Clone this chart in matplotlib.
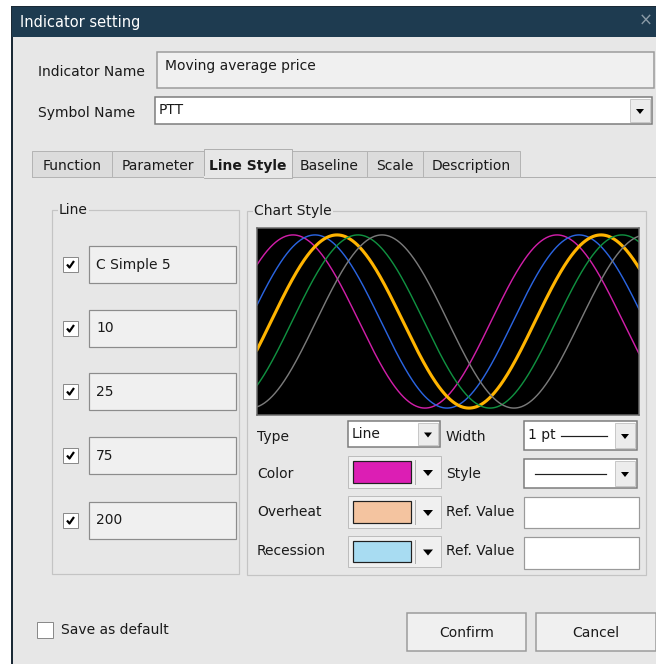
import numpy as np
import matplotlib.pyplot as plt
from matplotlib.patches import Rectangle, Polygon

# dialog content
title = "Indicator setting"
indicator_name = "Moving average price"
symbol_name = "PTT"
tabs = ["Function", "Parameter", "Line Style", "Baseline", "Scale", "Description"]
tab_edges = [32, 112, 204, 292, 367, 423, 520]
active_tab = "Line Style"

line_labels = ["C Simple 5", "10", "25", "75", "200"]
line_checked = [True, True, True, True, True]

# preview curves: colour, width (px) and x of the first crest in the preview
curve_colors = ["#d01ea8", "#2a64e0", "#ffb400", "#109040", "#7a7a7a"]
curve_widths = [1.2, 1.2, 2.6, 1.2, 1.2]
curve_peaks = [293, 315, 337, 358, 382]
curve_period = 264

color_swatch = "#dc1eb4"
overheat_swatch = "#f4c4a0"
recession_swatch = "#a8dcf2"

BODY = "#e7e7e7"
FIELD = "#f0f0f0"
PX = 0.72  # points per pixel at dpi 100


def box(ax, x0, y0, x1, y1, fc, ec="#a0a0a0", lw=1, z=2):
    ax.add_patch(Rectangle((x0, y0), x1 - x0, y1 - y0, facecolor=fc,
                           edgecolor=ec, linewidth=lw * PX, zorder=z))


def label(ax, x, y, s, size=10, color="#1a1a1a", **kw):
    ax.text(x, y, s, fontsize=size, color=color, va="center", ha="left",
            zorder=5, **kw)


def arrow(ax, cx, cy, w=8, h=5):
    ax.add_patch(Polygon([(cx - w / 2, cy - h / 2), (cx + w / 2, cy - h / 2),
                          (cx, cy + h / 2)], closed=True, facecolor="black",
                         edgecolor="none", zorder=6))


def combo(ax, x0, y0, x1, y1, text=None):
    box(ax, x0, y0, x1, y1, "white", ec="#7a7a7a", lw=1.5)
    box(ax, x1 - 22, y0 + 2, x1 - 2, y1 - 2, "#ececec", ec="#c8c8c8")
    arrow(ax, x1 - 12, (y0 + y1) / 2 + 1)
    if text:
        label(ax, x0 + 4, (y0 + y1) / 2, text)


def checkbox(ax, x0, y0, checked):
    box(ax, x0, y0, x0 + 15, y0 + 15, "white", ec="#8a8a8a", z=4)
    if checked:
        ax.plot([x0 + 4, x0 + 6.5, x0 + 11], [y0 + 7.5, y0 + 10.5, y0 + 4],
                color="black", lw=2.2 * PX, zorder=6, solid_capstyle="butt")


def swatch(ax, x0, y0, x1, y1, fc):
    box(ax, x0, y0, x1, y1, FIELD, ec="#bdbdbd")
    box(ax, x0 + 5, y0 + 5, x1 - 30, y1 - 5, fc, ec="#202020", lw=1.2, z=3)
    ax.plot([x1 - 26, x1 - 26], [y0 + 4, y1 - 4], color="#b0b0b0", lw=PX, zorder=4)
    arrow(ax, x1 - 13, (y0 + y1) / 2 + 1, w=10, h=6)


def group(ax, x0, y0, x1, y1, text):
    box(ax, x0, y0, x1, y1, "none", ec="#c4c4c4", lw=1.2, z=1)
    ax.text(x0 + 7, y0, text, fontsize=10, color="#1a1a1a", va="center",
            ha="left", zorder=5,
            bbox=dict(facecolor=BODY, edgecolor="none", pad=1))


fig = plt.figure(figsize=(6.56, 6.64), dpi=100)
fig.patch.set_facecolor("white")
ax = fig.add_axes([0, 0, 1, 1])
ax.set_xlim(0, 656)
ax.set_ylim(664, 0)
ax.axis("off")

# window frame and title bar
box(ax, 12, 7, 660, 670, BODY, ec="#1b2a36", lw=2, z=0)
box(ax, 12, 7, 660, 36, "#1e3b50", ec="#1e3b50", z=1)
label(ax, 20, 22, title, size=10.5, color="white")
ax.text(646, 21, "\u00d7", fontsize=12, color="#8a9aa6", va="center",
        ha="center", zorder=5)

# name / symbol rows
label(ax, 38, 72, "Indicator Name")
box(ax, 157, 52, 654, 88, FIELD, ec="#9a9a9a", lw=1.5)
label(ax, 165, 66, indicator_name)
label(ax, 38, 113, "Symbol Name")
combo(ax, 155, 97, 652, 124, symbol_name)

# tabs
ax.plot([32, 656], [176.5, 176.5], color="#b0b0b0", lw=PX, zorder=2)
for i, name in enumerate(tabs):
    x0, x1 = tab_edges[i], tab_edges[i + 1]
    if name == active_tab:
        box(ax, x0, 149, x1, 177.5, BODY, ec="#b0b0b0", z=3)
        ax.plot([x0 + 0.7, x1 - 0.7], [177, 177], color=BODY, lw=2 * PX, zorder=4)
        ax.text((x0 + x1) / 2, 166, name, fontsize=10, fontweight="bold",
                color="#1a1a1a", va="center", ha="center", zorder=5)
    else:
        box(ax, x0, 151, x1, 176.5, "#dcdcdc", ec="#b4b4b4", z=2)
        ax.text((x0 + x1) / 2, 166, name, fontsize=10, color="#1a1a1a",
                va="center", ha="center", zorder=5)

# left group: lines
group(ax, 52, 210, 239, 574, "Line")
row_tops = [246, 310, 373, 437, 502]
for top, name, chk in zip(row_tops, line_labels, line_checked):
    checkbox(ax, 63, top + 11, chk)
    box(ax, 89, top, 236, top + 37, FIELD, ec="#8c8c8c", lw=1.2)
    label(ax, 96, top + 18.5, name)

# right group: chart style
group(ax, 247, 211, 646, 575, "Chart Style")

# settings rows
label(ax, 257, 437, "Type")
combo(ax, 348, 421, 440, 447, "Line")
label(ax, 446, 437, "Width")
combo(ax, 524, 421, 637, 450, "1 pt")
ax.plot([561, 607], [436, 436], color="#202020", lw=1.2 * PX, zorder=6)

label(ax, 257, 474, "Color")
swatch(ax, 348, 456, 441, 488, color_swatch)
label(ax, 446, 474, "Style")
combo(ax, 524, 459, 637, 488)
ax.plot([535, 606], [474, 474], color="#202020", lw=1.2 * PX, zorder=6)

label(ax, 257, 512, "Overheat")
swatch(ax, 348, 496, 441, 528, overheat_swatch)
label(ax, 446, 512, "Ref. Value")
box(ax, 524, 497, 639, 528, "white", ec="#9a9a9a", lw=1.2)

label(ax, 257, 551, "Recession")
swatch(ax, 348, 536, 441, 567, recession_swatch)
label(ax, 446, 551, "Ref. Value")
box(ax, 524, 537, 639, 569, "white", ec="#9a9a9a", lw=1.2)

# bottom row
box(ax, 37, 622, 53, 638, "white", ec="#8a8a8a")
label(ax, 61, 630, "Save as default")
box(ax, 407, 613, 526, 651, FIELD, ec="#9a9a9a", lw=1.5)
ax.text(466.5, 633, "Confirm", fontsize=10, color="#1a1a1a", va="center",
        ha="center", zorder=5)
box(ax, 536, 613, 656, 651, FIELD, ec="#9a9a9a", lw=1.5)
ax.text(596, 633, "Cancel", fontsize=10, color="#1a1a1a", va="center",
        ha="center", zorder=5)

# preview chart
cx0, cx1, cy0, cy1 = 257, 639, 228, 415
pv = fig.add_axes([cx0 / 656, 1 - cy1 / 664, (cx1 - cx0) / 656, (cy1 - cy0) / 664])
pv.set_facecolor("black")
xs = np.linspace(cx0, cx1, 600)
for col, w, peak in zip(curve_colors, curve_widths, curve_peaks):
    pv.plot(xs, np.cos(2 * np.pi * (xs - peak) / curve_period), color=col,
            lw=w * PX * 1.2)
pv.set_xlim(cx0, cx1)
pv.set_ylim(-1.08, 1.08)
pv.set_xticks([])
pv.set_yticks([])
for sp in pv.spines.values():
    sp.set_color("#6a6a6a")
    sp.set_linewidth(1.5 * PX)

fig.savefig("out.png", dpi=100, facecolor="white")
